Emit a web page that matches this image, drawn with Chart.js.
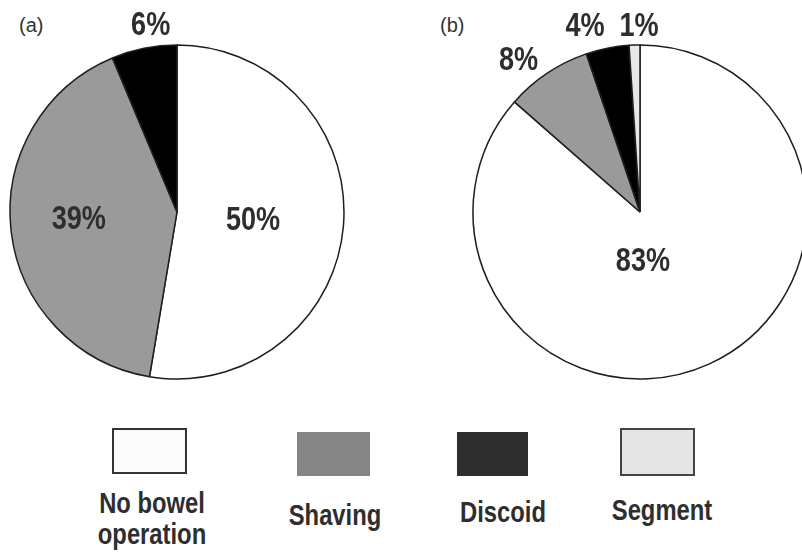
<!DOCTYPE html>
<html>
<head>
<meta charset="utf-8">
<script src="https://cdn.jsdelivr.net/npm/chart.js@4.4.1/dist/chart.umd.min.js"></script>
<style>
  html, body { margin: 0; padding: 0; background: #fff; }
  body { width: 802px; height: 552px; position: relative; overflow: hidden; }
  canvas { position: absolute; top: 0; }
  #pieA { left: 0; }
  #pieB { left: 463px; }
  .tag { position: absolute; top: 14px; font: 20px 'Liberation Sans', Arial, sans-serif; color: #333; }
  .box { position: absolute; box-sizing: border-box; }
  .lbl { position: absolute; font: bold 29px 'Liberation Sans', Arial, sans-serif;
         color: #2e2e2e; text-align: center; line-height: 31px; white-space: nowrap;
         transform: translateX(-50%) scaleX(0.82); }
</style>
</head>
<body>
<div class="tag" style="left:19px">(a)</div>
<div class="tag" style="left:440px">(b)</div>
<canvas id="pieA" width="354" height="424"></canvas>
<canvas id="pieB" width="354" height="424"></canvas>
<div id="legend"></div>
<script>
// 類別 / categories
const categories = ['No bowel operation', 'Shaving', 'Discoid', 'Segment'];
const legendLines = [['No bowel', 'operation'], ['Shaving'], ['Discoid'], ['Segment']];

// 數值 (%)
const valuesA = [50, 39, 6];
const valuesB = [83, 8, 4, 1];

// colours
const pieColors = ['#ffffff', '#9a9a9a', '#000000', '#e8e8e8'];
const legendColors = ['#fbfbfb', '#858585', '#2e2e2e', '#e5e5e5'];
const legendBorders = ['2px solid #333', 'none', 'none', '2px solid #444'];

// label placement: [radius factor, angle shift in degrees]
const placeA = [[0.458, 2], [0.59, 2], [1.125, 3.3]];
const placeB = [[0.30, 21], [1.163, -5], [1.156, -5.3], [1.108, 1.6]];

// legend layout
const legendBoxes = [[112, 428, 75, 46], [297, 432, 73, 44], [457, 432, 71, 44], [620, 428, 75, 48]];
const legendText = [[152, 488], [335, 500], [503, 497], [662, 495]];

// 百分比標籤 (condensed by scaling)
const pctLabels = {
    id: 'pctLabels',
    afterDatasetsDraw(chart, args, opts) {
        const { ctx } = chart;
        const meta = chart.getDatasetMeta(0);
        const data = chart.data.datasets[0].data;
        ctx.save();
        ctx.font = "bold 33px 'Liberation Sans', Arial, sans-serif";
        ctx.fillStyle = '#2e2e2e';
        ctx.textAlign = 'center';
        ctx.textBaseline = 'middle';
        meta.data.forEach((arc, i) => {
            const p = arc.getProps(['x', 'y', 'startAngle', 'endAngle', 'outerRadius'], true);
            const [rf, shift] = opts.place[i];
            const a = (p.startAngle + p.endAngle) / 2 + shift * Math.PI / 180;
            const r = p.outerRadius * rf;
            ctx.save();
            ctx.translate(p.x + Math.cos(a) * r, p.y + Math.sin(a) * r);
            ctx.scale(0.82, 1);
            ctx.fillText(data[i] + '%', 0, 0);
            ctx.restore();
        });
        ctx.restore();
    }
};

const makePie = (canvasId, values, place) => {
    const canvas = document.getElementById(canvasId);
    return new Chart(canvas, {
        type: 'pie',
        data: {
            labels: categories.slice(0, values.length),
            datasets: [{
                data: values,
                backgroundColor: pieColors.slice(0, values.length),
                borderColor: '#1e1e1e',
                borderWidth: 1.5,
                radius: 167
            }]
        },
        options: {
            responsive: false,
            animation: false,
            layout: { padding: 0 },
            plugins: {
                legend: { display: false },
                tooltip: { enabled: false },
                pctLabels: { place }
            }
        },
        plugins: [pctLabels]
    });
};

makePie('pieA', valuesA, placeA);
makePie('pieB', valuesB, placeB);

// legend
const legend = document.getElementById('legend');
categories.forEach((cat, i) => {
    const [x, y, w, h] = legendBoxes[i];
    const box = document.createElement('div');
    box.className = 'box';
    box.style.cssText = `left:${x}px;top:${y}px;width:${w}px;height:${h}px;background:${legendColors[i]};border:${legendBorders[i]}`;
    legend.appendChild(box);

    const lbl = document.createElement('div');
    lbl.className = 'lbl';
    lbl.style.left = legendText[i][0] + 'px';
    lbl.style.top = legendText[i][1] + 'px';
    lbl.innerHTML = legendLines[i].join('<br>');
    legend.appendChild(lbl);
});
</script>
</body>
</html>
